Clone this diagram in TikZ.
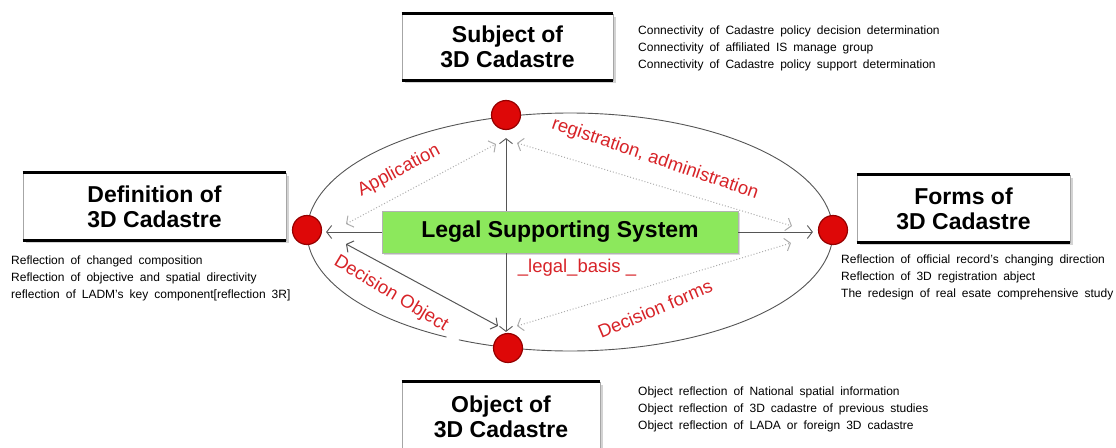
\documentclass[tikz,border=0pt]{standalone}
\usepackage{fontspec}
\setmainfont{Liberation Sans}
\usetikzlibrary{arrows.meta,shadows}
\definecolor{lblred}{RGB}{215,35,40}
\definecolor{dotred}{RGB}{222,8,8}
\definecolor{dotrim}{RGB}{150,0,0}
\definecolor{boxgreen}{RGB}{140,232,92}
\definecolor{linegray}{RGB}{85,85,85}
\newcommand\mydesc[3]{\begin{tabular}{@{}l@{}}\spaceskip=6pt plus 1pt\relax #1\\\spaceskip=6pt plus 1pt\relax #2\\\spaceskip=6pt plus 1pt\relax #3\end{tabular}}
\begin{document}
\begin{tikzpicture}[x=1pt,y=-1pt,
  titlebox/.style={draw=gray!70, line width=0.8pt, fill=white,
    drop shadow={opacity=0.35,shadow xshift=2.5pt,shadow yshift=-2.5pt},
    align=center, font=\fontsize{23}{25}\selectfont\bfseries, inner sep=0pt},
  desc/.style={anchor=north west, inner sep=0pt,
    font=\fontsize{12}{16.8}\selectfont},
  reddot/.style={circle, fill=dotred, draw=dotrim, line width=1.2pt, minimum size=29pt, inner sep=0pt},
  mainarr/.style={draw=linegray, line width=0.9pt, -{Straight Barb[length=5pt,width=13pt]}},
  dotarr/.style={draw=gray!65, line width=1pt, dotted,
    {Straight Barb[length=5pt,width=13pt]}-{Straight Barb[length=5pt,width=13pt]}},
  solarr/.style={draw=linegray, line width=1pt,
    {Straight Barb[length=5pt,width=13pt]}-{Straight Barb[length=5pt,width=13pt]}},
  lbl/.style={text=lblred, font=\fontsize{18.5}{18.5}\selectfont, inner sep=0pt},
  rule/.style={line width=3pt, black}
]
\useasboundingbox (0,0) rectangle (1116,447);
% ellipse (with a small gap lower left)
\draw[linegray, line width=0.9pt] plot[domain=118:475, samples=240, smooth] ({570+263*cos(\x)},{232+119*sin(\x)});

% title boxes
\node[titlebox, minimum width=211pt, minimum height=66pt] (subj) at (507.5,47) {Subject of\\3D Cadastre};
\node[titlebox, minimum width=263pt, minimum height=67pt] (defn) at (154.5,206.5) {Definition of\\3D Cadastre};
\node[titlebox, minimum width=213pt, minimum height=67pt] (form) at (963.5,208.5) {Forms of\\3D Cadastre};
\node[titlebox, minimum width=198pt, minimum height=70pt] (obj) at (501,417) {Object of\\3D Cadastre};
\foreach \b in {subj,defn,form,obj}{
  \draw[rule] (\b.north west) -- (\b.north east);
  \draw[rule] (\b.south west) -- (\b.south east);
}

% descriptions
\node[desc] (dsubj) at (638,23) {\mydesc{Connectivity of Cadastre policy decision determination}{Connectivity of affiliated IS manage group}{Connectivity of Cadastre policy support determination}};
\node[desc] (ddefn) at (11,253) {\mydesc{Reflection of changed composition}{Reflection of objective and spatial directivity}{reflection of LADM's key component[reflection 3R]}};
\node[desc] (dform) at (841,252) {\mydesc{Reflection of official record's changing direction}{Reflection of 3D registration abject}{The redesign of real esate comprehensive study}};
\node[desc] (dobj) at (638,384) {\mydesc{Object reflection of National spatial information}{Object reflection of 3D cadastre of previous studies}{Object reflection of LADA or foreign 3D cadastre}};

% green box
\node[draw=gray!60, fill=boxgreen, minimum width=356pt, minimum height=42pt, inner sep=0pt,
  drop shadow={opacity=0.3,shadow xshift=2pt,shadow yshift=-2pt},
  font=\fontsize{23}{25}\selectfont\bfseries] (lss) at (560,232) {Legal Supporting System};

% dots
\node[reddot] (dt) at (506,115) {};
\node[reddot] (dl) at (307,230) {};
\node[reddot] (dr) at (833,230) {};
\node[reddot] (db) at (508,348) {};

% main arrows
\draw[mainarr, shorten >=8pt] (lss.north -| dt) -- (dt);
\draw[mainarr, shorten >=1pt] (lss.south -| dt) -- (db.north -| dt);
\draw[mainarr, shorten >=4pt] (lss.west) -- (dl.east |- lss.west);
\draw[mainarr, shorten >=5pt] (lss.east) -- (dr.west |- lss.east);

% diagonal arrows
\coordinate (a1) at (346,224); \coordinate (a2) at (496,144);
\coordinate (r1) at (517,143); \coordinate (r2) at (792,226);
\coordinate (o1) at (346,244); \coordinate (o2) at (498,326);
\coordinate (f1) at (517,326); \coordinate (f2) at (791,243);
\draw[dotarr] (a1) -- (a2);
\draw[dotarr] (r1) -- (r2);
\draw[solarr] (o1) -- (o2);
\draw[dotarr] (f1) -- (f2);

% labels
\node[lbl, rotate=28] (lapp) at (399,171) {Application};
\node[lbl, rotate=-19] (lreg) at (655,159) {registration, administration};
\node[lbl, rotate=-31] (lobj) at (391,294) {Decision Object};
\node[lbl, rotate=23] (lfrm) at (655,309) {Decision forms};
\node[lbl] (lleg) at (577,268) {\_legal\_basis \_};
\end{tikzpicture}
\end{document}
